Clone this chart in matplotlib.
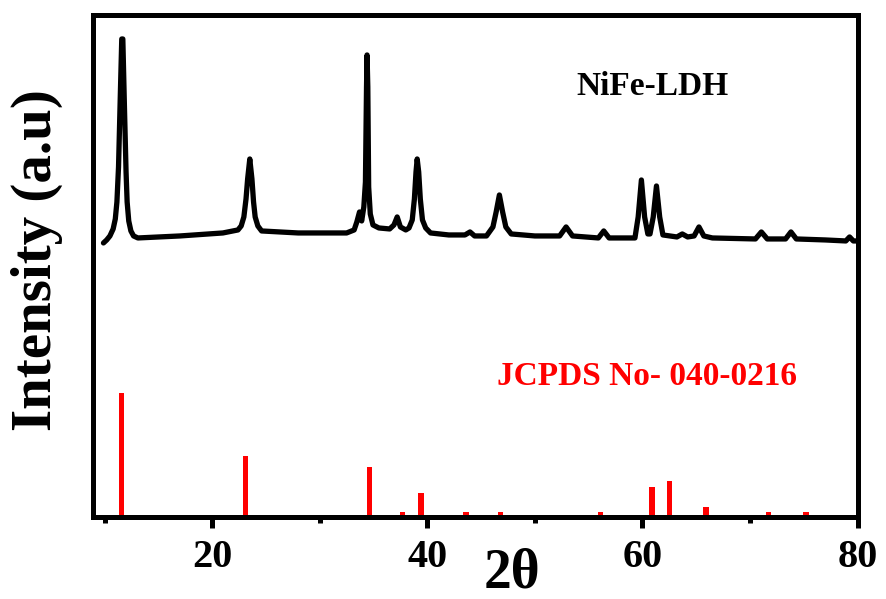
import matplotlib.pyplot as plt

FIGURE_SIZE = (8.86, 5.99)
FIGURE_DPI = 100

SERIF = ["Liberation Serif", "DejaVu Serif"]

# measured pattern, 2-theta (deg) and intensity (a.u.)
TWO_THETA = [
    9.9, 10.2, 10.5, 10.8, 11.0, 11.15, 11.3, 11.45, 11.6, 11.7, 11.85, 12.0, 12.1,
    12.25, 12.45, 12.7, 13.1,
    17.0, 21.0, 22.4,
    22.7, 22.95, 23.15, 23.3, 23.5, 23.7, 23.85, 24.0, 24.25, 24.6, 28.0, 32.5, 33.2,
    33.45, 33.7, 33.9, 34.1, 34.25, 34.35, 34.4, 34.47, 34.55, 34.7, 34.95,
    35.5, 36.5, 36.9, 37.2, 37.5, 38.0, 38.3, 38.6, 38.8, 38.95, 39.06, 39.2, 39.35,
    39.55, 39.85, 40.3,
    42.0, 43.5, 43.97, 44.4, 45.5, 46.1, 46.4, 46.7, 47.0, 47.3, 47.8,
    50.0, 52.3, 52.9, 53.5, 55.9, 56.4, 56.9,
    59.3, 59.6, 59.9, 60.2, 60.5, 60.7, 61.0, 61.3, 61.6, 61.9,
    63.2, 63.7, 64.2, 64.8, 65.25, 65.7, 66.5,
    70.5, 71.05, 71.6, 73.3, 73.8, 74.3, 77.0, 78.9, 79.25, 79.6, 80.0,
]
INTENSITY = [
    274, 277, 281, 288, 298, 315, 350, 415, 478, 478, 410, 345, 315,
    296, 286, 281, 279,
    281, 284, 287,
    291, 300, 318, 338, 358, 338, 315, 300, 291, 286, 284, 284, 287,
    295, 305, 296, 310, 335, 430, 462, 430, 330, 303, 292,
    289, 288, 292, 300, 290, 287, 289, 297, 318, 345, 358, 345, 318,
    297, 289, 284,
    282, 282, 285, 281, 281, 290, 305, 322, 305, 290, 283,
    281, 281, 290, 281, 279, 286, 279,
    279, 300, 337, 300, 283, 283, 300, 331, 300, 282,
    280, 283, 280, 281, 290, 281, 279,
    278, 285, 278, 278, 285, 278, 277, 276, 280, 276, 276,
]

# reference card JCPDS 040-0216, relative intensity
REF_TWO_THETA = [11.6, 23.1, 34.6, 37.7, 39.4, 43.6, 46.8, 56.1, 60.9, 62.5, 65.9, 71.7, 75.2]
REF_INTENSITY = [100, 49, 40, 4, 19, 4, 4, 4, 24, 29, 8, 4, 4]
REF_SCALE = 1.24

XTICKS = [20, 40, 60, 80]
XMINOR = [10, 30, 50, 70]


def main():
    fig = plt.figure(figsize=FIGURE_SIZE, dpi=FIGURE_DPI)
    ax = fig.add_axes([0.105, 0.137, 0.863, 0.838])

    ax.plot(TWO_THETA, INTENSITY, color="black", lw=3.8,
            solid_joinstyle="round", solid_capstyle="round")

    ax.bar(REF_TWO_THETA, [v * REF_SCALE for v in REF_INTENSITY],
           width=0.5, bottom=0, color="#ff0000", zorder=1)

    ax.set_xlim(8.93, 80)
    ax.set_ylim(0, 502)

    for side in ["top", "bottom", "left", "right"]:
        ax.spines[side].set_linewidth(3.6)

    ax.set_yticks([])
    ax.set_xticks(XTICKS)
    ax.set_xticks(XMINOR, minor=True)
    ax.set_xticklabels([str(t) for t in XTICKS])
    ax.tick_params(axis="x", which="major", direction="out", length=8,
                   width=3.6, pad=8, labelsize=29)
    ax.tick_params(axis="x", which="minor", direction="out", length=4.5,
                   width=3.6)
    for lab in ax.get_xticklabels():
        lab.set_fontfamily(SERIF)
        lab.set_fontweight("bold")

    ax.text(60.95, 430, "NiFe-LDH", ha="center", va="center",
            fontsize=24, fontweight="bold", family=SERIF, color="black")
    ax.text(60.4, 140, "JCPDS No- 040-0216", ha="center", va="center",
            fontsize=24, fontweight="bold", family=SERIF, color="#ff0000")

    fig.text(0.042, 1 - 260 / 599, "Intensity (a.u)", rotation=90,
             ha="center", va="center", fontsize=41, fontweight="bold",
             family=SERIF)
    fig.text(512 / 886, 1 - 573 / 599, "2θ", ha="center", va="center",
             fontsize=40, fontweight="bold", family=SERIF)

    fig.savefig("out.png", dpi=FIGURE_DPI)


if __name__ == "__main__":
    main()
